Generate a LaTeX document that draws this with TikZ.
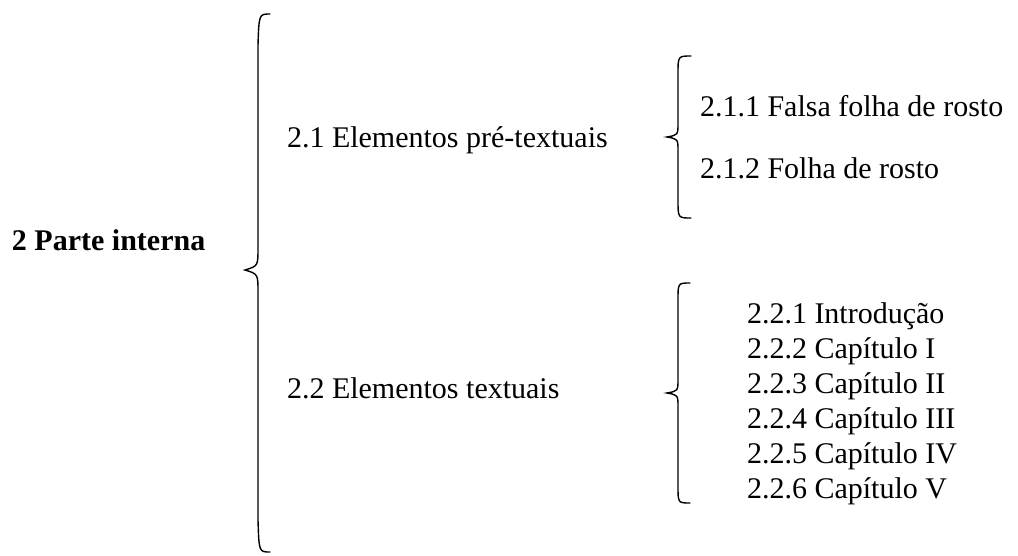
\documentclass[tikz,border=0pt]{standalone}
\usepackage{fontspec}
\setmainfont{Liberation Serif}
\tikzset{
  lbl/.style={anchor=base west, inner sep=0pt, outer sep=0pt, font=\fontsize{30}{35}\selectfont},
  bold lbl/.style={lbl, font=\fontsize{30}{35}\selectfont\bfseries},
  brace line/.style={draw=black, line width=1.4pt, line cap=round}
}
\begin{document}
\begin{tikzpicture}[x=1pt,y=-1pt]
\useasboundingbox (0,0) rectangle (1018,555);
% texts
\node[bold lbl] (root) at (12,250) {2 Parte interna};
\node[lbl] (e21) at (287,147) {2.1 Elementos pré-textuais};
\node[lbl] (e22) at (287,398) {2.2 Elementos textuais};
\node[lbl] (e211) at (700,116) {2.1.1 Falsa folha de rosto};
\node[lbl] (e212) at (700,178) {2.1.2 Folha de rosto};
\node[lbl] (e221) at (747,323) {2.2.1 Introdução};
\node[lbl] (e222) at (747,358) {2.2.2 Capítulo I};
\node[lbl] (e223) at (747,393) {2.2.3 Capítulo II};
\node[lbl] (e224) at (747,428) {2.2.4 Capítulo III};
\node[lbl] (e225) at (747,463) {2.2.5 Capítulo IV};
\node[lbl] (e226) at (747,498) {2.2.6 Capítulo V};
% big brace
\draw[brace line] (270,14) .. controls (259,14) .. (258,45) -- (258,248)
  .. controls (258,266) .. (245,270) .. controls (258,274) .. (258,292)
  -- (258,520) .. controls (259,552) .. (270,552);
% top right brace
\draw[brace line] (691,56) .. controls (678,56) .. (678,74) -- (678,123)
  .. controls (678,135) .. (667,137) .. controls (678,139) .. (678,151)
  -- (678,200) .. controls (678,218) .. (691,218);
% bottom right brace
\draw[brace line] (690,283) .. controls (678,283) .. (678,300) -- (678,379)
  .. controls (678,391) .. (667,393) .. controls (678,395) .. (678,407)
  -- (678,486) .. controls (678,503) .. (690,503);
\end{tikzpicture}
\end{document}
